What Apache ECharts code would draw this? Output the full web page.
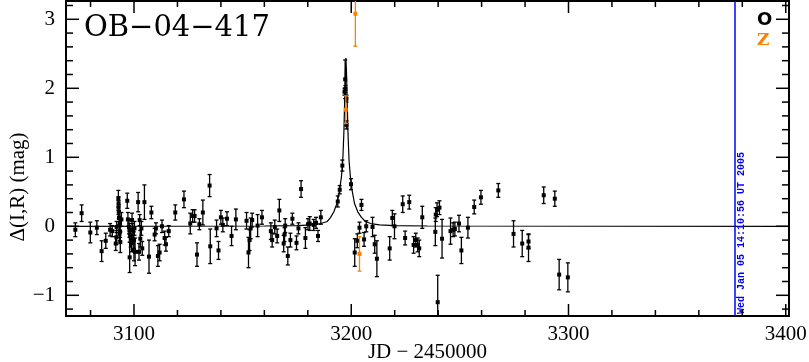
<!DOCTYPE html>
<html>
<head>
<meta charset="utf-8">
<script src="https://cdn.jsdelivr.net/npm/echarts@6/dist/echarts.min.js"></script>
<style>
html, body { margin: 0; padding: 0; background: #fff; }
#lc { width: 809px; height: 362px; }
</style>
</head>
<body>
<div id="lc"></div>
<script>
// OGLE "O" photometry: day (JD-2450000), delta mag, error
var oDays = [3073.0, 3075.9, 3079.9, 3082.9, 3085.1, 3087.0, 3089.0, 3090.0, 3091.6, 3091.9,
    3092.0, 3092.8, 3092.9, 3092.9, 3093.0, 3093.1, 3093.4, 3093.3, 3093.7, 3094.2,
    3093.6, 3096.9, 3097.2, 3097.7, 3097.9, 3098.2, 3098.5, 3098.0, 3098.8, 3099.1,
    3099.4, 3100.0, 3099.9, 3100.2, 3100.5, 3101.9, 3102.3, 3102.6, 3102.9, 3103.4,
    3103.8, 3104.8, 3106.9, 3108.0, 3109.5, 3110.1, 3111.0, 3111.8, 3112.9, 3114.1,
    3114.7, 3116.0, 3119.0, 3123.0, 3125.9, 3127.0, 3127.9, 3129.0, 3130.1, 3131.7,
    3134.8, 3135.1, 3138.0, 3138.9, 3140.0, 3140.9, 3142.8, 3144.9, 3146.9, 3151.8,
    3152.7, 3153.2, 3153.7, 3154.4, 3156.9, 3158.9, 3163.0, 3163.6, 3164.8, 3165.9,
    3166.9, 3168.9, 3169.6, 3169.3, 3170.8, 3172.0, 3172.9, 3174.8, 3175.7, 3176.9,
    3178.9, 3180.1, 3180.9, 3182.7, 3183.8, 3184.7, 3186.0, 3193.8, 3194.7, 3195.9,
    3196.9, 3197.2, 3197.3, 3197.8, 3197.8, 3199.9, 3201.6, 3202.8, 3203.8, 3204.7,
    3205.9, 3206.9, 3209.8, 3210.8, 3211.8, 3217.7, 3218.9, 3219.9, 3223.7, 3224.8,
    3226.7, 3228.7, 3229.7, 3230.6, 3231.3, 3232.7, 3238.7, 3238.9, 3239.5, 3240.6,
    3239.8, 3241.8, 3245.7, 3246.9, 3247.7, 3249.6, 3250.7, 3253.7, 3256.6, 3259.7,
    3267.7, 3274.7, 3278.7, 3281.6, 3281.6, 3288.6, 3293.7, 3295.7, 3299.7];
var oMags = [-0.05, 0.19, -0.09, -0.02, -0.36, -0.21, -0.05, -0.07, -0.25, -0.16,
    -0.01, 0.40, 0.33, 0.27, 0.21, 0.12, 0.05, -0.11, -0.23, 0.10,
    -0.08, 0.37, 0.10, -0.01, -0.06, -0.13, -0.18, -0.45, -0.25, 0.09,
    -0.06, -0.35, -0.20, -0.03, -0.37, 0.35, -0.37, 0.09, -0.18, -0.03,
    -0.32, 0.35, -0.44, 0.20, -0.12, -0.03, -0.43, -0.38, 0.00, -0.17,
    -0.26, -0.07, 0.20, 0.39, 0.04, 0.15, 0.15, -0.41, 0.03, 0.20,
    0.59, -0.29, -0.03, -0.35, 0.13, 0.02, 0.11, -0.14, 0.10, 0.08,
    -0.38, -0.20, -0.03, 0.09, 0.01, 0.13, -0.07, -0.20, -0.01, -0.14,
    0.23, -0.25, 0.01, -0.12, -0.43, -0.20, 0.11, -0.24, -0.03, 0.54,
    -0.17, 0.03, 0.04, 0.02, 0.05, -0.14, 0.13, 0.36, 0.53, 0.88,
    1.95, 2.13, 1.99, 1.85, 1.47, 0.61, -0.38, -0.21, -0.02, 0.31,
    -0.19, 0.00, -0.01, -0.26, -0.47, -0.32, 0.12, 0.00, 0.32, -0.17,
    0.35, -0.27, -0.20, -0.27, -0.32, 0.13, -0.08, 0.17, 0.24, 0.27,
    -1.10, -0.18, -0.07, -0.05, -0.04, 0.04, -0.35, -0.02, 0.28, 0.42,
    0.52, -0.11, -0.25, -0.22, -0.31, 0.45, 0.40, -0.70, -0.74];
var oErrs = [0.10, 0.12, 0.15, 0.10, 0.15, 0.11, 0.09, 0.08, 0.10, 0.10,
    0.08, 0.12, 0.10, 0.10, 0.10, 0.10, 0.10, 0.10, 0.15, 0.10,
    0.08, 0.11, 0.10, 0.10, 0.10, 0.10, 0.12, 0.22, 0.12, 0.10,
    0.10, 0.15, 0.12, 0.10, 0.20, 0.14, 0.12, 0.08, 0.12, 0.10,
    0.10, 0.25, 0.24, 0.09, 0.09, 0.08, 0.15, 0.12, 0.09, 0.10,
    0.10, 0.08, 0.11, 0.12, 0.15, 0.09, 0.09, 0.17, 0.08, 0.18,
    0.16, 0.25, 0.12, 0.13, 0.10, 0.10, 0.10, 0.14, 0.15, 0.12,
    0.22, 0.15, 0.15, 0.10, 0.16, 0.10, 0.12, 0.10, 0.10, 0.10,
    0.16, 0.12, 0.10, 0.10, 0.13, 0.10, 0.08, 0.10, 0.08, 0.12,
    0.15, 0.08, 0.10, 0.08, 0.08, 0.08, 0.10, 0.08, 0.06, 0.08,
    0.05, 0.28, 0.05, 0.05, 0.06, 0.08, 0.20, 0.10, 0.08, 0.08,
    0.10, 0.08, 0.14, 0.13, 0.26, 0.17, 0.11, 0.18, 0.12, 0.10,
    0.10, 0.12, 0.10, 0.10, 0.12, 0.16, 0.20, 0.10, 0.10, 0.10,
    0.39, 0.28, 0.19, 0.10, 0.10, 0.12, 0.19, 0.15, 0.10, 0.10,
    0.10, 0.19, 0.19, 0.10, 0.20, 0.12, 0.11, 0.22, 0.21];

// "Z" photometry
var zDays = [3197.5, 3201.9, 3203.8];
var zMags = [1.69, 3.08, -0.40];
var zErrs = [0.20, 0.47, 0.25];

// model light curve
var modelDays = [3068, 3160, 3175, 3182, 3186, 3189, 3190.5, 3192.0, 3193.4, 3194.6,
    3195.5, 3196.1, 3196.6, 3197.0, 3197.3, 3197.55, 3197.8, 3198.1, 3198.5, 3199.0,
    3199.6, 3200.4, 3201.5, 3203.0, 3204.7, 3206.5, 3209.0, 3213.0, 3220, 3235, 3402];
var modelMags = [0, 0.004, 0.01, 0.02, 0.04, 0.07, 0.13, 0.21, 0.33, 0.52,
    0.72, 0.95, 1.35, 1.85, 2.25, 2.44, 2.25, 1.85, 1.35, 0.95,
    0.72, 0.52, 0.33, 0.21, 0.13, 0.07, 0.04, 0.02, 0.01, 0.004, 0];

var nowDay = 3376.3;
var nowText = 'Wed Jan 05 14:10:56 UT 2005';

var xMajor = [3100, 3200, 3300, 3400];
var xMinor = [3080, 3120, 3140, 3160, 3180, 3220, 3240, 3260, 3280, 3320, 3340, 3360, 3380];
var yMajor = [-1, 0, 1, 2, 3];
var yMinor = [-1.2, -0.8, -0.6, -0.4, -0.2, 0.2, 0.4, 0.6, 0.8, 1.2, 1.4, 1.6, 1.8, 2.2, 2.4, 2.6, 2.8, 3.2];

var xMin = 3068.7, xMax = 3401.5;
var yMin = -1.30, yMax = 3.265;

function zip3(a, b, c) {
    var out = [];
    for (var i = 0; i < a.length; i++) out.push([a[i], b[i], c[i]]);
    return out;
}
var oData = zip3(oDays, oMags, oErrs);
var zData = zip3(zDays, zMags, zErrs);
var modelData = modelDays.map(function (d, i) { return [d, modelMags[i]]; });

function errRender(color) {
    return function (params, api) {
        var x = api.value(0), y = api.value(1), e = api.value(2);
        var c = api.coord([x, y]);
        var hi = api.coord([x, y + e]);
        var lo = api.coord([x, y - e]);
        var st = { stroke: color, lineWidth: 1.3 };
        return {
            type: 'group',
            children: [
                { type: 'line', shape: { x1: c[0], y1: hi[1], x2: c[0], y2: lo[1] }, style: st },
                { type: 'line', shape: { x1: c[0] - 2, y1: hi[1], x2: c[0] + 2, y2: hi[1] }, style: st },
                { type: 'line', shape: { x1: c[0] - 2, y1: lo[1], x2: c[0] + 2, y2: lo[1] }, style: st },
                { type: 'rect', shape: { x: c[0] - 2, y: c[1] - 2, width: 4, height: 4 }, style: { fill: color } }
            ]
        };
    };
}

var labelFont = { color: '#000', fontFamily: 'Liberation Serif', fontSize: 21 };

function fmtNum(v) {
    return v < 0 ? '\u2212' + (-v) : String(v);
}

var texts = [
    { type: 'text', left: 84, top: 14, style: { text: 'OB\u221204\u2212417', fill: '#000', font: '29px "DejaVu Serif"' } },
    { type: 'text', x: 18, y: 187, rotation: Math.PI / 2,
      style: { text: '\u0394(I,R) (mag)', fill: '#000', font: '21px "Liberation Serif"', textAlign: 'center', textVerticalAlign: 'middle' } },
    { type: 'text', left: 757, top: 11, style: { text: 'O', fill: '#000', font: 'bold 18px "DejaVu Sans"' } },
    { type: 'text', left: 757, top: 32, style: { text: 'Z', fill: '#ff8000', font: 'bold 17px "DejaVu Serif"' } }
];

var chart = echarts.init(document.getElementById('lc'));
chart.setOption({
    animation: false,
    backgroundColor: '#fff',
    grid: {
        left: 66, right: 20, top: 1, bottom: 46, outerBoundsMode: 'none',
        show: true, borderColor: '#000', borderWidth: 2
    },
    xAxis: {
        type: 'value', min: xMin, max: xMax,
        axisLine: { show: false, onZero: false },
        axisTick: { show: false },
        axisLabel: Object.assign({ customValues: xMajor, margin: 8, formatter: fmtNum }, labelFont),
        splitLine: { show: false },
        name: 'JD \u2212 2450000', nameLocation: 'middle', nameGap: 26, nameMoveOverlap: false,
        nameTextStyle: { color: '#000', fontFamily: 'Liberation Serif', fontSize: 21 }
    },
    yAxis: {
        type: 'value', min: yMin, max: yMax,
        axisLine: { show: false, onZero: false },
        axisTick: { show: false },
        axisLabel: Object.assign({ customValues: yMajor, margin: 11, formatter: fmtNum }, labelFont),
        splitLine: { show: false }
    },
    graphic: texts,
    series: [
        {
            name: 'model', type: 'line', data: modelData, showSymbol: false,
            lineStyle: { color: '#000', width: 1.2 }, z: 2,
            markLine: {
                silent: true, symbol: 'none', animation: false,
                lineStyle: { color: '#0000ff', width: 1.5, type: 'solid' },
                label: {
                    show: true, position: 'insideStartBottom', formatter: nowText,
                    color: '#0000ff', fontFamily: 'Liberation Mono', fontWeight: 'bold', fontSize: 10,
                    distance: 2
                },
                data: [{ xAxis: nowDay }]
            }
        },
        {
            name: 'O', type: 'custom', data: oData, renderItem: errRender('#000'),
            encode: { x: 0, y: 1 }, clip: true, z: 3
        },
        {
            name: 'Z', type: 'custom', data: zData, renderItem: errRender('#ff8000'),
            encode: { x: 0, y: 1 }, clip: true, z: 4
        }
    ]
});

// inward tick marks on all four sides, placed through the axis scales
function toPx(x, y) {
    return chart.convertToPixel({ gridIndex: 0 }, [x, y]);
}
function tickLine(x1, y1, x2, y2) {
    return { type: 'line', silent: true, z: 50, shape: { x1: x1, y1: y1, x2: x2, y2: y2 },
             style: { stroke: '#000', lineWidth: 1.5 } };
}
var lo = toPx(xMin, yMin), hi = toPx(xMax, yMax);
var frameL = lo[0], frameB = lo[1], frameR = hi[0], frameT = hi[1];
var ticks = [];
function addXTicks(vals, len) {
    vals.forEach(function (v) {
        var px = toPx(v, yMin)[0];
        ticks.push(tickLine(px, frameB, px, frameB - len));
        ticks.push(tickLine(px, frameT, px, frameT + len));
    });
}
function addYTicks(vals, len) {
    vals.forEach(function (v) {
        var py = toPx(xMin, v)[1];
        ticks.push(tickLine(frameL, py, frameL + len, py));
        ticks.push(tickLine(frameR, py, frameR - len, py));
    });
}
addXTicks(xMajor, 12);
addXTicks(xMinor, 6);
addYTicks(yMajor, 13);
addYTicks(yMinor, 7);

chart.setOption({ graphic: texts.concat(ticks) });
</script>
</body>
</html>
